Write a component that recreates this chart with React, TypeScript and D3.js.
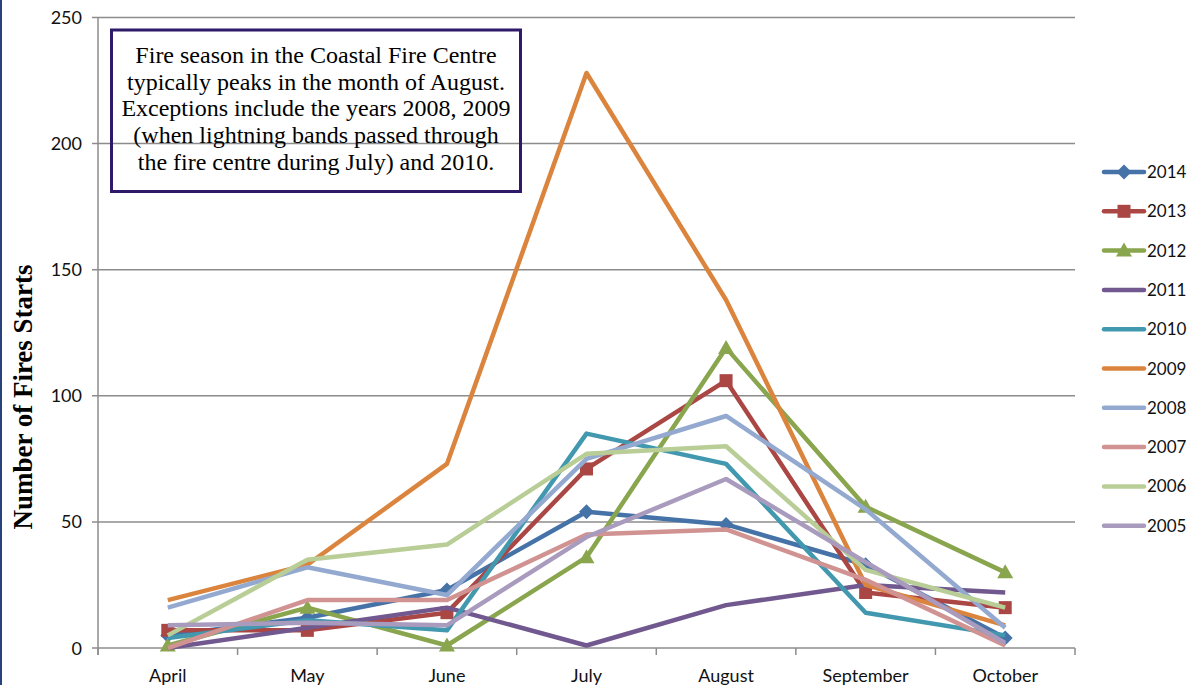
import React from "react";
import * as d3 from "d3";

const months = ["April", "May", "June", "July", "August", "September", "October"];
const yTicks = [0, 50, 100, 150, 200, 250];

const years = ["2014", "2013", "2012", "2011", "2010", "2009", "2008", "2007", "2006", "2005"];
const v2014 = [5, 12, 23, 54, 49, 33, 4];
const v2013 = [7, 7, 14, 71, 106, 22, 16];
const v2012 = [1, 16, 1, 36, 119, 56, 30];
const v2011 = [0, 8, 16, 1, 17, 25, 22];
const v2010 = [4, 11, 7, 85, 73, 14, 5];
const v2009 = [19, 33, 73, 228, 138, 25, 9];
const v2008 = [16, 32, 21, 75, 92, 55, 8];
const v2007 = [0, 19, 19, 45, 47, 27, 1];
const v2006 = [5, 35, 41, 77, 80, 31, 16];
const v2005 = [9, 10, 9, 44, 67, 34, 2];
const seriesValues = [v2014, v2013, v2012, v2011, v2010, v2009, v2008, v2007, v2006, v2005];
const colors = ["#4572A7", "#AA4643", "#89A54E", "#71588F", "#4198AF", "#DB843D", "#93A9CF", "#D19392", "#B9CD96", "#A99BBD"];
const markers = ["diamond", "square", "triangle", "none", "none", "none", "none", "none", "none", "none"];

const noteLines = [
  "Fire season in the Coastal Fire Centre",
  "typically peaks in the month of August.",
  "Exceptions include the years 2008, 2009",
  "(when lightning bands passed through",
  "the fire centre during July) and 2010.",
];

const W = 1204;
const H = 685;
const plotLeft = 98;
const plotRight = 1075;
const plotTop = 17.5;
const plotBottom = 648;

function Marker({ type, x, y, color }: { type: string; x: number; y: number; color: string }) {
  if (type === "diamond") {
    const s = 7.5;
    return <path d={`M${x},${y - s}L${x + s},${y}L${x},${y + s}L${x - s},${y}Z`} fill={color} />;
  }
  if (type === "square") {
    const s = 6.5;
    return <rect x={x - s} y={y - s} width={2 * s} height={2 * s} fill={color} />;
  }
  if (type === "triangle") {
    const s = 8;
    return <path d={`M${x},${y - s}L${x + s},${y + s * 0.75}L${x - s},${y + s * 0.75}Z`} fill={color} />;
  }
  return null;
}

export default function App() {
  const x = d3.scaleBand<string>().domain(months).range([plotLeft, plotRight]).padding(0);
  const y = d3.scaleLinear().domain([0, 250]).range([plotBottom, plotTop]);
  const line = d3
    .line<number>()
    .x((_, i) => (x(months[i]) as number) + x.bandwidth() / 2)
    .y((d) => y(d));

  const boundaries = months.map((m) => x(m) as number).concat([plotRight]);
  const legendX = 1104;
  const legendY0 = 172;
  const legendStep = 39.3;

  return (
    <svg
      width={W}
      height={H}
      style={{ position: "absolute", left: 0, top: 0, background: "#fff" }}
      fontFamily="Lato, 'Open Sans', sans-serif"
    >
      <rect x={0} y={0} width={W} height={H} fill="#fff" />
      <rect x={0} y={0} width={2} height={H} fill="#28427C" />

      {/* gridlines */}
      {yTicks.map((t) => (
        <g key={t}>
          <line x1={plotLeft - 6} x2={plotRight} y1={y(t)} y2={y(t)} stroke="#8C8C8C" strokeWidth={1.5} />
          <text x={82} y={y(t) + 6.5} textAnchor="end" fontSize={18} fill="#111">
            {t}
          </text>
        </g>
      ))}
      {/* y axis */}
      <line x1={plotLeft} x2={plotLeft} y1={plotTop} y2={plotBottom + 7} stroke="#8C8C8C" strokeWidth={1.5} />
      {/* x ticks */}
      {boundaries.map((b, i) => (
        <line key={i} x1={b} x2={b} y1={plotBottom} y2={plotBottom + 7} stroke="#8C8C8C" strokeWidth={1.5} />
      ))}
      {months.map((m) => (
        <text key={m} x={(x(m) as number) + x.bandwidth() / 2} y={682} textAnchor="middle" fontSize={18} fill="#111">
          {m}
        </text>
      ))}

      {/* note box */}
      <rect x={111.5} y={30} width={409} height={161.5} fill="none" stroke="#2E1A68" strokeWidth={3} />
      {noteLines.map((l, i) => (
        <text
          key={i}
          x={316}
          y={63 + i * 26.7}
          textAnchor="middle"
          fontFamily="'Liberation Serif', 'Times New Roman', serif"
          fontSize={24}
          fill="#000"
        >
          {l}
        </text>
      ))}

      {/* y title */}
      <text
        transform="translate(32,397) rotate(-90)"
        textAnchor="middle"
        fontFamily="'Liberation Serif', 'Times New Roman', serif"
        fontWeight="bold"
        fontSize={27}
        fill="#000"
      >
        Number of Fires Starts
      </text>

      {/* series */}
      {seriesValues.map((vals, si) => (
        <g key={years[si]}>
          <path d={line(vals) || ""} fill="none" stroke={colors[si]} strokeWidth={4.5} strokeLinejoin="round" />
          {vals.map((v, i) => (
            <Marker
              key={i}
              type={markers[si]}
              x={(x(months[i]) as number) + x.bandwidth() / 2}
              y={y(v)}
              color={colors[si]}
            />
          ))}
        </g>
      ))}

      {/* legend */}
      {years.map((yr, si) => {
        const ly = legendY0 + si * legendStep;
        return (
          <g key={yr}>
            <line x1={legendX} x2={legendX + 40} y1={ly} y2={ly} stroke={colors[si]} strokeWidth={4.5} strokeLinecap="round" />
            <Marker type={markers[si]} x={legendX + 20} y={ly} color={colors[si]} />
            <text x={legendX + 43} y={ly + 6} fontSize={17} fill="#111">
              {yr}
            </text>
          </g>
        );
      })}
    </svg>
  );
}
